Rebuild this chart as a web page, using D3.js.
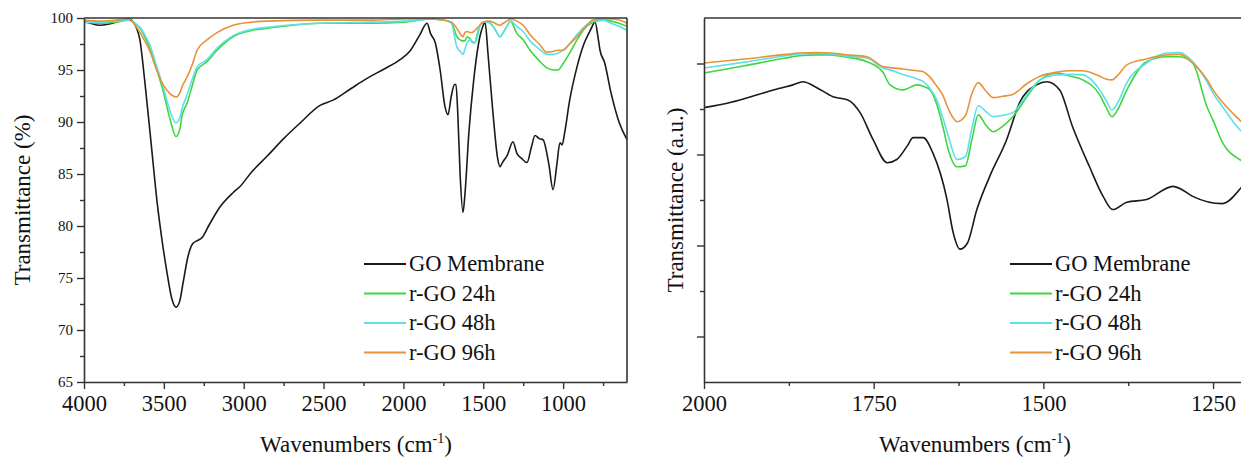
<!DOCTYPE html>
<html><head><meta charset="utf-8">
<script src="https://cdn.jsdelivr.net/npm/d3@7"></script>
<style>
html,body{margin:0;padding:0;background:#fff;overflow:hidden}
svg{display:block}
svg text{font-family:"Liberation Serif","Times New Roman",Times,"DejaVu Serif",serif !important;}
</style>
</head><body>
<svg id="chart" width="1241" height="461"></svg>
<script>
// ---------- DATA ----------
const seriesNames = ["GO Membrane", "r-GO 24h", "r-GO 48h", "r-GO 96h"];
const seriesColors = ["#1a1a1a", "#3fd63f", "#5ee0ea", "#e8923a"];

// Left panel: full spectrum, transmittance (%)
const leftGoWn = [4000,3960,3900,3850,3800,3760,3720,3690,3670,3650,3620,3580,3540,3512,3480,3450,3424,3400,3380,3350,3320,3290,3260,3220,3150,3067,3023,2950,2854,2750,2647,2522,2441,2330,2228,2120,2021,1960,1900,1852,1830,1800,1770,1740,1721,1700,1680,1671,1660,1645,1627,1615,1590,1560,1530,1500,1489,1470,1440,1410,1395,1380,1350,1314,1290,1260,1226,1200,1176,1150,1126,1090,1063,1040,1020,1006,990,960,913,870,830,800,780,769,740,700,650,600];
const leftGoT  = [99.7,99.5,99.3,99.4,99.6,99.8,99.9,99.6,99.0,97.9,94.0,88.0,82.0,78.7,75.5,73.0,72.2,72.8,74.5,77.0,78.3,78.6,78.9,80.0,81.8,83.2,83.8,85.2,86.7,88.4,89.9,91.6,92.1,93.2,94.2,95.1,96.0,96.8,98.3,99.5,98.5,97.6,95.0,91.5,90.7,92.5,93.6,93.6,91.0,85.0,81.3,83.0,89.0,94.0,97.5,99.3,99.6,96.5,91.0,86.5,85.7,86.1,86.8,88.1,87.0,86.5,86.1,87.5,88.7,88.4,88.3,86.0,83.5,85.8,88.0,87.8,89.0,92.0,95.3,97.5,98.8,99.6,98.0,96.9,95.7,92.8,90.0,88.3];

const leftRgoWn = [4000,3900,3800,3720,3690,3649,3620,3587,3550,3505,3460,3424,3400,3386,3355,3320,3292,3230,3167,3067,2950,2854,2522,2200,2000,1900,1850,1750,1700,1665,1645,1627,1615,1602,1583,1571,1552,1540,1521,1500,1470,1439,1415,1395,1375,1352,1330,1289,1250,1207,1150,1101,1060,1032,1001,960,913,870,813,750,700,650,600];
const leftG24  = [99.6,99.5,99.6,99.8,99.6,99.0,98.2,97.1,95.3,93.0,90.2,88.6,89.3,90.6,91.8,93.6,95.0,95.8,96.9,98.2,98.8,99.0,99.5,99.5,99.6,99.8,99.9,99.8,99.6,98.2,97.9,97.8,97.8,98.2,98.0,97.7,97.6,98.3,99.3,99.6,99.6,99.2,98.6,98.2,98.6,99.2,99.7,98.5,97.9,96.9,95.9,95.2,95.0,95.0,95.6,96.6,97.9,98.9,99.6,99.8,99.7,99.5,99.2];
const leftC48  = [99.6,99.6,99.7,99.8,99.6,99.1,98.4,97.4,95.6,93.4,91.0,89.9,90.4,91.3,92.6,94.2,95.3,96.0,97.1,98.3,98.9,99.1,99.5,99.6,99.7,99.8,99.9,99.8,99.5,97.2,96.8,96.5,97.0,97.6,97.9,97.8,97.6,98.0,99.2,99.6,99.6,99.2,98.6,98.2,98.6,99.2,99.7,99.2,98.7,97.8,97.0,96.5,96.5,96.6,96.9,97.5,98.4,99.1,99.7,99.8,99.5,99.2,98.8];
const leftO96  = [99.8,99.7,99.8,99.9,99.5,98.6,97.8,96.8,95.2,93.6,92.7,92.4,92.8,93.4,94.3,95.6,96.9,97.9,98.6,99.3,99.6,99.7,99.8,99.8,99.9,99.9,99.9,99.8,99.6,99.0,98.5,98.2,98.6,98.7,98.6,98.6,98.8,99.0,99.3,99.6,99.7,99.6,99.4,99.3,99.5,99.7,99.9,99.7,99.3,98.4,97.5,96.7,96.8,96.9,96.9,97.5,98.2,99.0,99.8,99.9,99.9,99.8,99.5];

// Right panel: 2000-1200 cm-1, transmittance (a.u.)
const rightGoWn = [2000,1960,1920,1890,1869,1854,1835,1810,1788,1770,1751,1730,1716,1700,1692,1677,1663,1642,1633,1623,1612,1598,1579,1554,1535,1510,1495,1476,1457,1432,1412,1398,1377,1348,1309,1295,1280,1236,1211,1200];
const rightGoV  = [6.03,6.15,6.32,6.45,6.53,6.60,6.48,6.27,6.20,5.92,5.33,4.82,4.89,5.20,5.37,5.37,5.04,4.01,3.29,2.92,3.05,3.79,4.52,5.33,6.14,6.53,6.60,6.42,5.61,4.73,4.08,3.79,3.95,4.01,4.30,4.22,4.08,3.92,4.23,4.45];
const rightRgoWn = [2000,1940,1880,1859,1835,1814,1790,1760,1736,1726,1707,1686,1677,1667,1657,1648,1640,1627,1615,1605,1596,1585,1574,1560,1545,1525,1505,1480,1460,1442,1417,1408,1399,1390,1377,1348,1318,1299,1280,1259,1250,1236,1211,1200];
const rightG24 = [6.79,6.95,7.12,7.17,7.19,7.19,7.14,7.04,6.80,6.53,6.42,6.53,6.50,6.42,6.10,5.61,5.10,4.73,4.75,5.35,5.87,5.65,5.50,5.62,5.83,6.25,6.64,6.79,6.72,6.64,6.31,6.05,5.83,6.00,6.42,7.04,7.15,7.15,7.01,6.05,5.75,5.26,4.89,4.80];
const rightC48 = [6.90,7.03,7.17,7.21,7.22,7.21,7.16,7.12,6.90,6.86,6.76,6.66,6.60,6.45,6.20,5.80,5.40,4.89,4.95,5.60,6.07,5.95,5.83,5.86,5.92,6.30,6.64,6.75,6.76,6.75,6.42,6.20,5.98,6.15,6.58,7.01,7.23,7.24,7.04,6.60,6.35,6.05,5.55,5.40];
const rightO96 = [7.01,7.10,7.20,7.23,7.24,7.23,7.19,7.15,6.93,6.91,6.88,6.84,6.82,6.70,6.50,6.30,6.00,5.72,5.85,6.35,6.58,6.40,6.25,6.28,6.32,6.55,6.72,6.81,6.84,6.84,6.72,6.66,6.64,6.75,6.97,7.10,7.19,7.20,7.01,6.65,6.42,6.15,5.76,5.60];

// Axis ticks
const leftXMajor = [4000,3500,3000,2500,2000,1500,1000];
const leftXMinor = [3750,3250,2750,2250,1750,1250,750];
const leftYMajor = [65,70,75,80,85,90,95,100];
const leftYMinor = [67.5,72.5,77.5,82.5,87.5,92.5,97.5];
const rightXMajor = [2000,1750,1500,1250];
const rightXMinor = [1875,1625,1375];
const rightYMajor = [1,3,5,7];
const rightYMinor = [2,4,6];

// ---------- DRAW ----------
const svg = d3.select("#chart");
const plotTop = 18, plotBottom = 382;

function panel(cfg) {
  const x = d3.scaleLinear().domain(cfg.xDomain).range(cfg.xRange);
  const y = d3.scaleLinear().domain(cfg.yDomain).range([plotBottom, plotTop]);
  const g = svg.append("g");
  const clipId = "clip" + cfg.id;
  svg.append("clipPath").attr("id", clipId).append("rect")
    .attr("x", cfg.xRange[0]).attr("y", plotTop).attr("width", cfg.xRange[1] - cfg.xRange[0]).attr("height", plotBottom - plotTop);

  const line = d3.line().x(d => x(d[0])).y(d => y(d[1])).curve(d3.curveMonotoneX);
  const plot = g.append("g").attr("clip-path", `url(#${clipId})`);
  cfg.series.forEach(s => {
    plot.append("path").datum(s.wn.map((w, k) => [w, s.v[k]]))
      .attr("fill", "none").attr("stroke", s.color).attr("stroke-width", 1.6)
      .attr("stroke-linejoin", "round").attr("d", line);
  });

  const axisColor = "#333";
  g.append("line").attr("x1", cfg.xRange[0]).attr("x2", cfg.xRange[1]).attr("y1", plotTop).attr("y2", plotTop)
    .attr("stroke", axisColor).attr("stroke-width", 1.6);
  g.append("line").attr("x1", cfg.xRange[1]).attr("x2", cfg.xRange[1]).attr("y1", plotTop).attr("y2", plotBottom)
    .attr("stroke", axisColor).attr("stroke-width", 1.6);

  const xAxis = g.append("g").attr("transform", `translate(0,${plotBottom})`)
    .call(d3.axisBottom(x).tickValues(cfg.xMajor).tickSize(7).tickSizeOuter(0).tickPadding(6).tickFormat(d3.format("d")));
  xAxis.attr("font-family", null);
  xAxis.select(".domain").attr("stroke", axisColor).attr("stroke-width", 1.6);
  xAxis.selectAll(".tick line").attr("stroke", axisColor).attr("stroke-width", 1.4);
  xAxis.selectAll(".tick text").attr("font-size", 22.5).attr("fill", "#111");
  g.append("g").attr("transform", `translate(0,${plotBottom})`)
    .call(d3.axisBottom(x).tickValues(cfg.xMinor).tickSize(4).tickFormat(""))
    .call(a => a.select(".domain").remove())
    .selectAll(".tick line").attr("stroke", axisColor).attr("stroke-width", 1.4);

  const yAxis = g.append("g").attr("transform", `translate(${cfg.xRange[0]},0)`)
    .call(d3.axisLeft(y).tickValues(cfg.yMajor).tickSize(7).tickSizeOuter(0).tickPadding(4)
      .tickFormat(cfg.yLabels ? d3.format("d") : ""));
  yAxis.attr("font-family", null);
  yAxis.select(".domain").attr("stroke", axisColor).attr("stroke-width", 1.6);
  yAxis.selectAll(".tick line").attr("stroke", axisColor).attr("stroke-width", 1.4);
  yAxis.selectAll(".tick text").attr("font-size", 15).attr("fill", "#111");
  g.append("g").attr("transform", `translate(${cfg.xRange[0]},0)`)
    .call(d3.axisLeft(y).tickValues(cfg.yMinor).tickSize(4).tickFormat(""))
    .call(a => a.select(".domain").remove())
    .selectAll(".tick line").attr("stroke", axisColor).attr("stroke-width", 1.4);

  g.append("text").attr("transform", `translate(${cfg.yTitleX},${cfg.yTitleY}) rotate(-90)`)
    .attr("text-anchor", "middle").attr("font-size", 23).attr("fill", "#111")
    .text(cfg.yTitle);
  const xt = g.append("text").attr("x", cfg.xTitleX).attr("y", 452).attr("text-anchor", "middle")
    .attr("font-size", 23).attr("fill", "#111");
  xt.append("tspan").text("Wavenumbers (cm");
  xt.append("tspan").attr("dy", -9).attr("font-size", 14).text("-1");
  xt.append("tspan").attr("dy", 9).text(")");

  const lg = g.append("g");
  cfg.series.forEach((s, i) => {
    const yy = cfg.legendY + i * 29.5;
    lg.append("line").attr("x1", cfg.legendX).attr("x2", cfg.legendX + 42).attr("y1", yy).attr("y2", yy)
      .attr("stroke", s.color).attr("stroke-width", 1.8);
    lg.append("text").attr("x", cfg.legendX + 45).attr("y", yy + 7)
      .attr("font-size", 22.5).attr("fill", "#111").text(s.name);
  });
}

const leftSeries = [
  { wn: leftGoWn, v: leftGoT },
  { wn: leftRgoWn, v: leftG24 },
  { wn: leftRgoWn, v: leftC48 },
  { wn: leftRgoWn, v: leftO96 }
].map((s, i) => ({ ...s, name: seriesNames[i], color: seriesColors[i] }));

const rightSeries = [
  { wn: rightGoWn, v: rightGoV },
  { wn: rightRgoWn, v: rightG24 },
  { wn: rightRgoWn, v: rightC48 },
  { wn: rightRgoWn, v: rightO96 }
].map((s, i) => ({ ...s, name: seriesNames[i], color: seriesColors[i] }));

panel({ id: "L", xDomain: [4000, 600], xRange: [84, 627], yDomain: [65, 100],
  series: leftSeries, xMajor: leftXMajor, xMinor: leftXMinor, yMajor: leftYMajor, yMinor: leftYMinor,
  yLabels: true, yTitle: "Transmittance (%)", yTitleX: 30, yTitleY: 200, xTitleX: 356,
  legendX: 364, legendY: 264 });
panel({ id: "R", xDomain: [2000, 1200], xRange: [704, 1247], yDomain: [0, 8],
  series: rightSeries, xMajor: rightXMajor, xMinor: rightXMinor, yMajor: rightYMajor, yMinor: rightYMinor,
  yLabels: false, yTitle: "Transmittance (a.u.)", yTitleX: 683, yTitleY: 200, xTitleX: 975,
  legendX: 1010, legendY: 264 });
</script>
</body></html>
